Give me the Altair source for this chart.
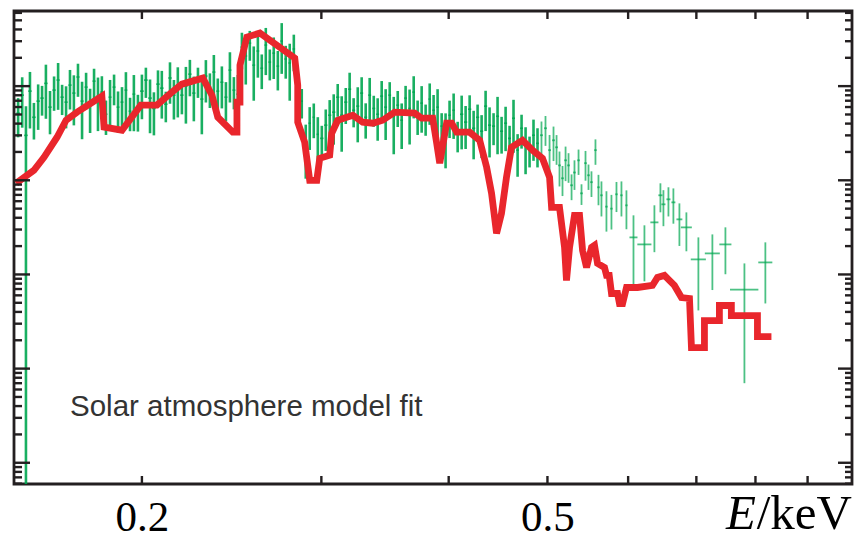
import altair as alt
import pandas as pd

# ---------------- data ----------------
# observed spectrum (energy in keV, flux in arbitrary log units, 1-sigma error, bin half-width)
green_e = [
    0.1512, 0.1526, 0.1539, 0.1553, 0.1567, 0.1582, 0.1596, 0.1610, 0.1625, 0.1640,
    0.1655, 0.1670, 0.1685, 0.1700, 0.1715, 0.1731, 0.1747, 0.1763, 0.1779, 0.1795,
    0.1811, 0.1827, 0.1844, 0.1861, 0.1878, 0.1895, 0.1912, 0.1929, 0.1947, 0.1964,
    0.1982, 0.2000, 0.2018, 0.2037, 0.2055, 0.2074, 0.2092, 0.2111, 0.2131, 0.2150,
    0.2169, 0.2189, 0.2209, 0.2229, 0.2249, 0.2270, 0.2290, 0.2311, 0.2332, 0.2353,
    0.2374, 0.2396, 0.2418, 0.2440, 0.2462, 0.2484, 0.2507, 0.2529, 0.2552, 0.2575,
    0.2599, 0.2622, 0.2646, 0.2670, 0.2694, 0.2719, 0.2743, 0.2768, 0.2793, 0.2819,
    0.2844, 0.2870, 0.2896, 0.2922, 0.2949, 0.2976, 0.3003, 0.3030, 0.3057, 0.3085,
    0.3113, 0.3141, 0.3170, 0.3198, 0.3227, 0.3257, 0.3286, 0.3316, 0.3346, 0.3377,
    0.3407, 0.3438, 0.3469, 0.3501, 0.3533, 0.3565, 0.3597, 0.3629, 0.3662, 0.3696,
    0.3729, 0.3763, 0.3797, 0.3832, 0.3866, 0.3901, 0.3937, 0.3972, 0.4008, 0.4045,
    0.4082, 0.4119, 0.4156, 0.4194, 0.4232, 0.4270, 0.4309, 0.4348, 0.4387, 0.4427,
    0.4467, 0.4508, 0.4549, 0.4590, 0.4631, 0.4674, 0.4716, 0.4759, 0.4802, 0.4845,
    0.4889,
    0.4933, 0.4978, 0.5024, 0.5069, 0.5104, 0.5138, 0.5173, 0.5209, 0.5244, 0.5280,
    0.5315, 0.5364, 0.5400, 0.5449, 0.5486, 0.5523, 0.5573, 0.5611, 0.5649, 0.5713,
    0.5778, 0.5844, 0.5910, 0.5977,
    0.6073, 0.6225, 0.6367, 0.6454, 0.6498, 0.6572, 0.6646, 0.6737, 0.6844, 0.7032,
    0.7258, 0.7475, 0.7803, 0.8181,
]
green_f = [
    5.16, 8.02, 3.0, 8.85, 4.67, 6.93, 7.46, 10.7, 5.98, 9.07,
    11.6, 7.63, 6.76, 10.25, 8.43, 12.5, 6.93, 9.76, 6.28, 11.3,
    7.83, 8.64, 5.03, 7.63, 9.76, 5.98, 6.76, 9.07, 5.42, 8.22,
    5.69, 8.85, 11.6, 7.46, 5.8, 10.5, 9.52, 6.43, 12.2, 8.02,
    10.25, 8.02, 10.0, 13.4, 8.43, 11.6, 7.28, 12.8, 9.76, 14.1,
    8.85, 11.0, 7.63, 14.8, 9.07, 8.22, 26.0, 20.9, 28.6, 16.7,
    23.6, 15.5, 27.3, 18.0, 22.4, 16.3, 30.1, 19.4, 17.6, 24.8,
    7.63, 6.93, 2.47, 4.04, 4.67, 3.08, 2.79, 3.85, 4.91, 5.29,
    7.63, 4.91, 6.76, 9.28, 5.55, 6.13, 8.43, 4.67, 8.02, 5.8,
    5.03, 7.83, 5.98, 8.02, 4.79, 6.28, 4.35, 7.46, 5.8, 8.64,
    5.03, 6.6, 4.67, 7.28, 5.55, 5.98, 3.76, 3.24, 4.91, 5.55,
    3.08, 5.03, 4.15, 5.69, 3.57, 4.67, 3.32, 6.13, 3.85, 3.76,
    4.79, 3.32, 4.04, 2.79, 4.56, 2.09, 3.57, 2.41, 2.14, 3.01,
    2.47,
    3.01, 3.57, 2.09, 2.66, 2.24, 1.44, 1.05, 1.63, 1.44, 0.885,
    1.21, 1.63, 0.727, 1.52, 1.13, 0.955, 2.09, 0.843, 0.693, 0.525,
    0.50, 0.71, 0.693, 0.542,
    0.2475, 0.2085, 0.3574, 0.693, 0.5555, 0.628, 0.583, 0.3847, 0.3162, 0.1445,
    0.1673, 0.2085, 0.069, 0.1342,
]
green_err = [
    2.3, 4.4, 3.1, 5.3, 1.96, 3.5, 2.6, 6.2, 2.9, 3.6,
    6.0, 2.7, 3.2, 4.6, 4.6, 4.8, 4.2, 4.1, 3.1, 4.0,
    4.5, 4.1, 2.0, 4.0, 3.5, 2.8, 3.0, 5.0, 2.1, 4.9,
    2.4, 4.4, 4.1, 4.3, 2.8, 4.2, 5.0, 2.3, 5.7, 3.6,
    5.6, 3.0, 6.0, 5.6, 4.2, 4.1, 4.2, 6.1, 3.9, 7.3,
    3.2, 5.2, 3.4, 8.1, 3.4, 4.9, 10.9, 10.5, 10.0, 9.7,
    11.3, 6.2, 14.2, 6.5, 10.5, 7.3, 16.6, 7.4, 10.6, 10.4,
    3.8, 2.4, 1.43, 1.94, 1.87, 1.6, 1.0, 1.8, 2.2, 2.9,
    2.9, 2.9, 2.8, 4.6, 1.9, 3.6, 4.0, 1.9, 4.2, 2.1,
    2.4, 3.5, 3.3, 3.0, 2.9, 2.6, 2.2, 2.6, 3.4, 4.1,
    2.0, 3.4, 1.7, 3.4, 2.5, 3.3, 1.4, 1.9, 2.1, 2.8,
    1.1, 2.9, 2.0, 2.3, 1.9, 1.7, 1.6, 2.8, 2.1, 1.4,
    2.9, 1.4, 2.0, 1.0, 2.6, 1.0, 1.4, 1.25, 0.77, 1.4,
    1.1,
    1.2, 1.25, 0.94, 1.06, 0.78, 0.58, 0.37, 0.65, 0.50, 0.27,
    0.42, 0.49, 0.18, 0.53, 0.34, 0.29, 0.63, 0.30, 0.28, 0.24,
    0.20, 0.25, 0.28, 0.24,
    0.177, 0.124, 0.185, 0.236, 0.23, 0.215, 0.237, 0.184, 0.14, 0.103,
    0.099, 0.108, 0.062, 0.085,
]
green_de = (
    [0.0006] * 31 + [0.0008] * 45 + [0.0011] * 35 + [0.0015] * 20
    + [0.0016] * 24
    + [0.0055, 0.0099, 0.0058, 0.003, 0.003, 0.003, 0.003, 0.0045, 0.0085, 0.012,
       0.0123, 0.0102, 0.025, 0.013]
)
N_DENSE = 131  # the first 131 bins form the dense part of the spectrum

# solar atmosphere model (red curve)
red_e = [
    0.1505, 0.1567, 0.1603, 0.1651, 0.1685, 0.1727, 0.1783, 0.1827, 0.1836, 0.1912,
    0.1995, 0.2069, 0.2135, 0.2189, 0.2295, 0.2343, 0.2374, 0.2456, 0.2479, 0.2479,
    0.2496, 0.2496, 0.2535, 0.2611, 0.2652, 0.2825, 0.2844, 0.2844, 0.2889, 0.2922,
    0.2969, 0.2989, 0.3057, 0.3071, 0.3113, 0.3221, 0.3294, 0.3370, 0.3446, 0.3540,
    0.3704, 0.3763, 0.3858, 0.3893, 0.3920, 0.3981, 0.4027, 0.4073, 0.4194, 0.4290,
    0.4358, 0.4407, 0.4457, 0.4507, 0.4558, 0.4610, 0.4726, 0.4834, 0.4944, 0.5024,
    0.5047, 0.5138, 0.5197, 0.5220, 0.5256, 0.5315, 0.5376, 0.5413, 0.5462, 0.5524,
    0.5561, 0.5599, 0.5688, 0.5714, 0.5749, 0.5779, 0.5858, 0.5884, 0.5925, 0.5978,
    0.6128, 0.6339, 0.6411, 0.6513, 0.6586, 0.6661, 0.6768, 0.6892, 0.6923, 0.7129,
    0.7129, 0.7374, 0.7374, 0.7576, 0.7576, 0.8036, 0.8036, 0.8294,
]
red_f = [
    0.929, 1.278, 1.757, 2.867, 4.347, 5.289, 6.594, 7.826, 3.663, 3.404,
    6.281, 6.281, 8.425, 10.5, 12.16, 8.023, 4.68, 3.24, 3.24, 6.758,
    6.758, 16.72, 33.2, 36.6, 32.4, 19.86, 10.25, 4.14, 2.537, 1.0,
    1.0, 1.714, 1.845, 3.162, 4.347, 4.915, 4.14, 4.04, 4.347, 5.289,
    5.161, 4.566, 4.566, 2.475, 1.517, 4.04, 4.04, 3.24, 3.24, 2.664,
    1.375, 0.727, 0.273, 0.4456, 1.076, 2.244, 2.664, 2.085, 1.714, 1.076,
    0.516, 0.516, 0.1937, 0.0864, 0.1937, 0.4242, 0.4242, 0.18, 0.1187, 0.1937,
    0.2035, 0.131, 0.1187, 0.0976, 0.0976, 0.0628, 0.0628, 0.0491, 0.0491, 0.0727,
    0.0727, 0.0764, 0.0929, 0.0976, 0.0864, 0.0764, 0.0569, 0.0556, 0.01673, 0.01673,
    0.0324, 0.0324, 0.0468, 0.0468, 0.0366, 0.0366, 0.0219, 0.0219,
]

# axis ticks and labels
x_tick_values = [0.2, 0.3, 0.4, 0.5, 0.6, 0.7, 0.8, 0.9]
x_label_values = [0.2, 0.5]
y_major_ticks = [0.001, 0.01, 0.1, 1, 10]
y_minor_ticks = [
    0.0006, 0.0007, 0.0008, 0.0009,
    0.002, 0.003, 0.004, 0.005, 0.006, 0.007, 0.008, 0.009,
    0.02, 0.03, 0.04, 0.05, 0.06, 0.07, 0.08, 0.09,
    0.2, 0.3, 0.4, 0.5, 0.6, 0.7, 0.8, 0.9,
    2, 3, 4, 5, 6, 7, 8, 9,
    20, 30, 40, 50, 60,
]
x_domain = [0.1498, 0.995]
y_domain = [5.95e-4, 62.8]

# ---------------- chart ----------------
W, H = 838, 473
GREEN = "#00a650"
RED = "#e9262c"
INK = "#231f20"

g = pd.DataFrame({"e": green_e, "f": green_f, "err": green_err, "de": green_de})
g["f_lo"] = (g["f"] - g["err"]).clip(lower=y_domain[0])
g["f_hi"] = g["f"] + g["err"]
g["e_lo"] = g["e"] - g["de"]
g["e_hi"] = g["e"] + g["de"]
g_dense = g.iloc[:N_DENSE]
g_sparse = g.iloc[N_DENSE:]
r = pd.DataFrame({"e": red_e, "f": red_f, "i": range(len(red_e))})

xs = alt.Scale(type="log", domain=x_domain, nice=False)
ys = alt.Scale(type="log", domain=y_domain, nice=False)
XAX = alt.Axis(values=x_label_values, format=".1f", ticks=False, tickSize=0, domain=False,
               grid=False, title=None, labelFont="Liberation Serif", labelFontSize=43,
               labelColor="#000000", labelPadding=46, labelBaseline="alphabetic",
               labelFlush=False, labelOverlap=False)

# plot frame: a dark filled rectangle with a white one inside it, under everything
one = pd.DataFrame({"k": [0]})
FW = 1.4  # half of the frame line width
frame_outer = alt.Chart(one).mark_rect(color=INK, opacity=1).encode(
    x=alt.value(-FW), x2=alt.value(W + FW), y=alt.value(-FW), y2=alt.value(H + FW))
frame_inner = alt.Chart(one).mark_rect(color="#ffffff", opacity=1).encode(
    x=alt.value(FW), x2=alt.value(W - FW), y=alt.value(FW), y2=alt.value(H - FW))


def vbars(df, width, opacity):
    return alt.Chart(df).mark_rule(color=GREEN, strokeWidth=width, opacity=opacity,
                                   clip=True).encode(
        x=alt.X("e:Q", scale=xs, axis=XAX),
        y=alt.Y("f_lo:Q", scale=ys, axis=None),
        y2="f_hi:Q",
    )


def hbars(df, width, opacity):
    return alt.Chart(df).mark_rule(color=GREEN, strokeWidth=width, opacity=opacity,
                                   clip=True).encode(
        x=alt.X("e_lo:Q", scale=xs, axis=XAX),
        x2="e_hi:Q",
        y=alt.Y("f:Q", scale=ys, axis=None),
    )


model = alt.Chart(r).mark_line(color=RED, strokeWidth=6.8, strokeJoin="miter",
                               strokeCap="butt", clip=True).encode(
    x=alt.X("e:Q", scale=xs, axis=XAX),
    y=alt.Y("f:Q", scale=ys, axis=None),
    order="i:Q",
)

ymaj = pd.DataFrame({"v": y_major_ticks})
ymin = pd.DataFrame({"v": y_minor_ticks})
xt = pd.DataFrame({"v": x_tick_values})
tick_style = dict(color=INK, strokeWidth=2.4)


def yticks(df, x0, x1):
    return alt.Chart(df).mark_rule(**tick_style).encode(
        y=alt.Y("v:Q", scale=ys, axis=None), x=alt.value(x0), x2=alt.value(x1))


def xticks(y0, y1):
    return alt.Chart(xt).mark_rule(**tick_style).encode(
        x=alt.X("v:Q", scale=xs, axis=XAX), y=alt.value(y0), y2=alt.value(y1))


ticks = [
    yticks(ymaj, 0, 16), yticks(ymin, 0, 8),
    yticks(ymaj, W - 14, W), yticks(ymin, W - 7, W),
    xticks(H - 8, H), xticks(0, 8),
]

lbl = pd.DataFrame({"t": ["E", "/keV", "Solar atmosphere model fit"]})
e_txt = alt.Chart(lbl[lbl.t == "E"]).mark_text(
    font="Liberation Serif", fontSize=49, fontStyle="italic", align="right",
    baseline="alphabetic", color="#000000").encode(
    text="t:N", x=alt.value(W - 96), y=alt.value(518))
kev_txt = alt.Chart(lbl[lbl.t == "/keV"]).mark_text(
    font="Liberation Serif", fontSize=49, align="right",
    baseline="alphabetic", color="#000000").encode(
    text="t:N", x=alt.value(W), y=alt.value(518))
note = alt.Chart(lbl[lbl.t.str.startswith("Solar")]).mark_text(
    font="Liberation Sans", fontSize=29.5, align="left", baseline="alphabetic",
    color="#333333").encode(text="t:N", x=alt.value(56), y=alt.value(405))

chart = alt.layer(
    frame_outer, frame_inner,
    vbars(g_dense, 2.6, 0.9), hbars(g_dense, 1.6, 0.9),
    vbars(g_sparse, 1.8, 0.7), hbars(g_sparse, 1.8, 0.7),
    model, *ticks, e_txt, kev_txt, note,
).properties(
    width=W, height=H,
    background="white",
    autosize=alt.AutoSizeParams(type="none"),
    padding={"left": 14, "top": 11, "right": 2, "bottom": 56},
).configure_view(strokeWidth=0)

chart.save("out.html", embed_options={"renderer": "svg", "actions": False})
